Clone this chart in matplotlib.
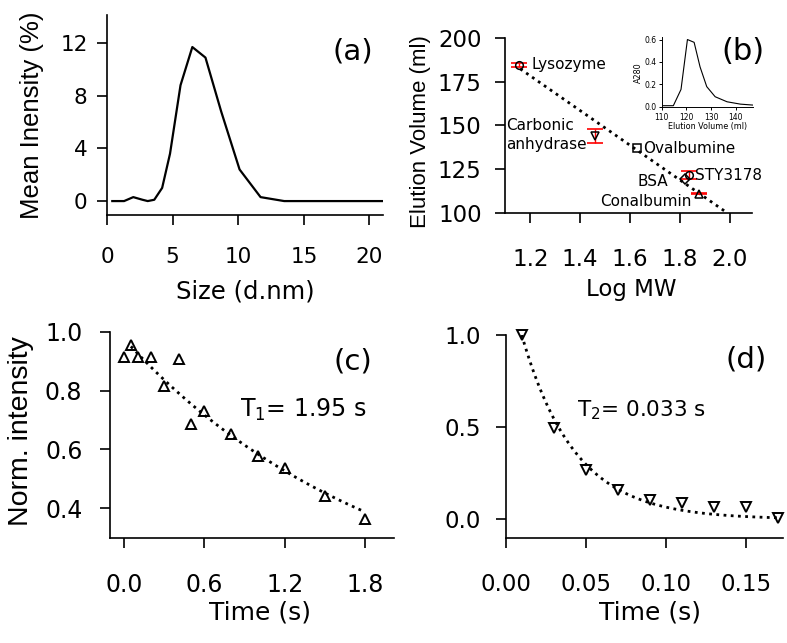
import matplotlib
matplotlib.use("Agg")
import matplotlib.pyplot as plt
import numpy as np

plt.rcParams['font.family'] = ['DejaVu Sans']

# (a) DLS size distribution
size_nm = [0.4, 1.3, 2.0, 2.7, 3.1, 3.6, 4.2, 4.8, 5.6, 6.5, 7.5, 8.7, 10.1, 11.7, 13.5, 15.7, 18.2, 21.0]
intensity = [0, 0, 0.3, 0.1, 0, 0.1, 1.0, 3.6, 8.8, 11.7, 10.9, 6.8, 2.4, 0.3, 0, 0, 0, 0]

# (b) calibration
proteins = ['Lysozyme', 'Carbonic\nanhydrase', 'Ovalbumine', 'STY3178', 'BSA', 'Conalbumin']
log_mw = [1.157, 1.46, 1.627, 1.837, 1.82, 1.877]
elution = [184.6, 144.0, 137.0, 121.7, 119.3, 110.9]
elution_err = [1.3, 3.8, 0.0, 2.4, 0.0, 0.2]
markers_b = ['o', 'v', 's', 'o', 'D', '^']
label_xy = [(1.207, 184.6), (1.104, 144.3), (1.653, 137.0), (1.862, 121.3), (1.753, 117.9), (1.847, 106.5)]
label_ha = ['left', 'left', 'left', 'left', 'right', 'right']
fit_slope, fit_icpt = -99.3, 297.5
fit_x = [1.16, 1.987]

# (b) inset chromatogram
inset_vol = [110, 114.7, 117.8, 120.4, 123.1, 125.5, 128.2, 131.6, 136.4, 141.8, 147.2]
inset_a280 = [0.01, 0.01, 0.155, 0.6, 0.575, 0.356, 0.18, 0.09, 0.045, 0.024, 0.015]

# (c) T1 decay
t1_time = [0.0, 0.05, 0.1, 0.2, 0.3, 0.41, 0.5, 0.6, 0.8, 1.0, 1.2, 1.5, 1.8]
t1_int = [0.913, 0.955, 0.915, 0.913, 0.814, 0.906, 0.687, 0.729, 0.653, 0.579, 0.536, 0.443, 0.362]
T1, A1 = 1.95, 0.975

# (d) T2 decay
t2_time = [0.01, 0.03, 0.05, 0.07, 0.09, 0.11, 0.13, 0.15, 0.17]
t2_int = [1.0, 0.494, 0.268, 0.159, 0.105, 0.087, 0.065, 0.069, 0.005]
T2 = 0.033

DOT = (0, (1, 1.6))


def r_axes(ax, fs, padx, pady, tl=7):
    for s in ['top', 'right']:
        ax.spines[s].set_visible(False)
    for s in ['left', 'bottom']:
        ax.spines[s].set_linewidth(1.2)
    ax.tick_params(direction='out', length=tl, width=1.2, labelsize=fs)
    ax.tick_params(axis='x', pad=padx)
    ax.tick_params(axis='y', pad=pady)


fig = plt.figure(figsize=(7.87, 6.43), dpi=100)

# ---- (a)
ax = fig.add_axes([0.136, 0.666, 0.351, 0.311])
ax.plot(size_nm, intensity, color='black', lw=1.6)
ax.set_xlim(0, 21.05)
ax.set_ylim(-1.04, 14.15)
ax.set_xticks([0, 5, 10, 15, 20])
ax.set_yticks([0, 4, 8, 12])
r_axes(ax, 15.5, 16.5, 7)
ax.text(0.5, -0.385, 'Size (d.nm)', transform=ax.transAxes, ha='center', va='center', fontsize=17.5)
ax.text(-0.272, 0.5, 'Mean Inensity (%)', transform=ax.transAxes, ha='center', va='center',
        rotation=90, fontsize=18.5, family='Liberation Sans')
ax.text(0.891, 0.815, '(a)', transform=ax.transAxes, ha='center', va='center', fontsize=21)

# ---- (b)
ax = fig.add_axes([0.642, 0.669, 0.314, 0.272])
fx = np.array(fit_x)
ax.plot(fx, fit_icpt + fit_slope * fx, color='black', lw=2, linestyle=DOT)
for i in range(len(proteins)):
    if elution_err[i] > 0:
        ax.errorbar(log_mw[i], elution[i], yerr=elution_err[i], fmt='none', ecolor='red',
                    elinewidth=1.0, capsize=5.5, capthick=1.2)
    ax.plot(log_mw[i], elution[i], marker=markers_b[i], ms=5.5, mfc='none', mec='black', mew=1.1,
            linestyle='none')
    ax.text(label_xy[i][0], label_xy[i][1], proteins[i], ha=label_ha[i], va='center',
            fontsize=11, linespacing=1.35)
ax.set_xlim(1.1, 2.09)
ax.set_ylim(100, 200)
ax.set_xticks([1.2, 1.4, 1.6, 1.8, 2.0])
ax.set_yticks([100, 125, 150, 175, 200])
r_axes(ax, 16.5, 18.5, 10)
ax.text(0.51, -0.44, 'Log MW', transform=ax.transAxes, ha='center', va='center', fontsize=16.5)
ax.text(-0.344, 0.463, 'Elution Volume (ml)', transform=ax.transAxes, ha='center', va='center',
        rotation=90, fontsize=16, family='Liberation Sans')
ax.text(0.96, 0.92, '(b)', transform=ax.transAxes, ha='center', va='center', fontsize=22)

# inset
axi = fig.add_axes([0.8408, 0.833, 0.116, 0.109])
axi.set_facecolor('none')
axi.plot(inset_vol, inset_a280, color='black', lw=0.8)
axi.set_xlim(110, 146.9)
axi.set_ylim(-0.005, 0.62)
axi.set_xticks([110, 120, 130, 140])
axi.set_yticks([0.0, 0.2, 0.4, 0.6])
for s in ['top', 'right']:
    axi.spines[s].set_visible(False)
for s in ['left', 'bottom']:
    axi.spines[s].set_linewidth(0.7)
axi.tick_params(direction='out', length=2.5, width=0.7, labelsize=5.5, pad=1.5)
axi.set_xlabel('Elution Volume (ml)', fontsize=5.8, labelpad=0)
axi.set_ylabel('A280', fontsize=5.8, labelpad=1)

# ---- (c)
ax = fig.add_axes([0.140, 0.163, 0.360, 0.321])
tt = np.linspace(0.05, 1.8, 100)
ax.plot(tt, A1 * np.exp(-tt / T1), color='black', lw=2, linestyle=DOT)
ax.plot(t1_time, t1_int, linestyle='none', marker='^', ms=6.5, mfc='none', mec='black', mew=1.4,
        clip_on=False)
ax.set_xlim(-0.105, 2.013)
ax.set_ylim(0.298, 1.0)
ax.set_xticks([0.0, 0.6, 1.2, 1.8])
ax.set_yticks([0.4, 0.6, 0.8, 1.0])
r_axes(ax, 17, 18, 13)
ax.text(0.53, -0.362, 'Time (s)', transform=ax.transAxes, ha='center', va='center', fontsize=18)
ax.text(-0.314, 0.517, 'Norm. intensity', transform=ax.transAxes, ha='center', va='center',
        rotation=90, fontsize=20.5, family='Liberation Sans')
ax.text(0.868, 0.734, r'T$_1$= 1.95 s', ha='left', va='center', fontsize=17)
ax.text(0.855, 0.858, '(c)', transform=ax.transAxes, ha='center', va='center', fontsize=21)

# ---- (d)
ax = fig.add_axes([0.6426, 0.163, 0.3527, 0.316])
tt = np.linspace(0.01, 0.17, 100)
ax.plot(tt, np.exp(-(tt - 0.01) / T2), color='black', lw=2, linestyle=DOT)
ax.plot(t2_time, t2_int, linestyle='none', marker='v', ms=6.5, mfc='none', mec='black', mew=1.4,
        clip_on=False)
ax.set_xlim(0.0, 0.173)
ax.set_ylim(-0.103, 1.0)
ax.set_xticks([0.0, 0.05, 0.10, 0.15])
ax.set_xticklabels(['0.00', '0.05', '0.10', '0.15'])
ax.set_yticks([0.0, 0.5, 1.0])
r_axes(ax, 16.5, 18, 11)
ax.text(0.52, -0.367, 'Time (s)', transform=ax.transAxes, ha='center', va='center', fontsize=18)
ax.text(0.0445, 0.593, r'T$_2$= 0.033 s', ha='left', va='center', fontsize=15.5)
ax.text(0.866, 0.877, '(d)', transform=ax.transAxes, ha='center', va='center', fontsize=21)

fig.savefig('out.png', dpi=100)
